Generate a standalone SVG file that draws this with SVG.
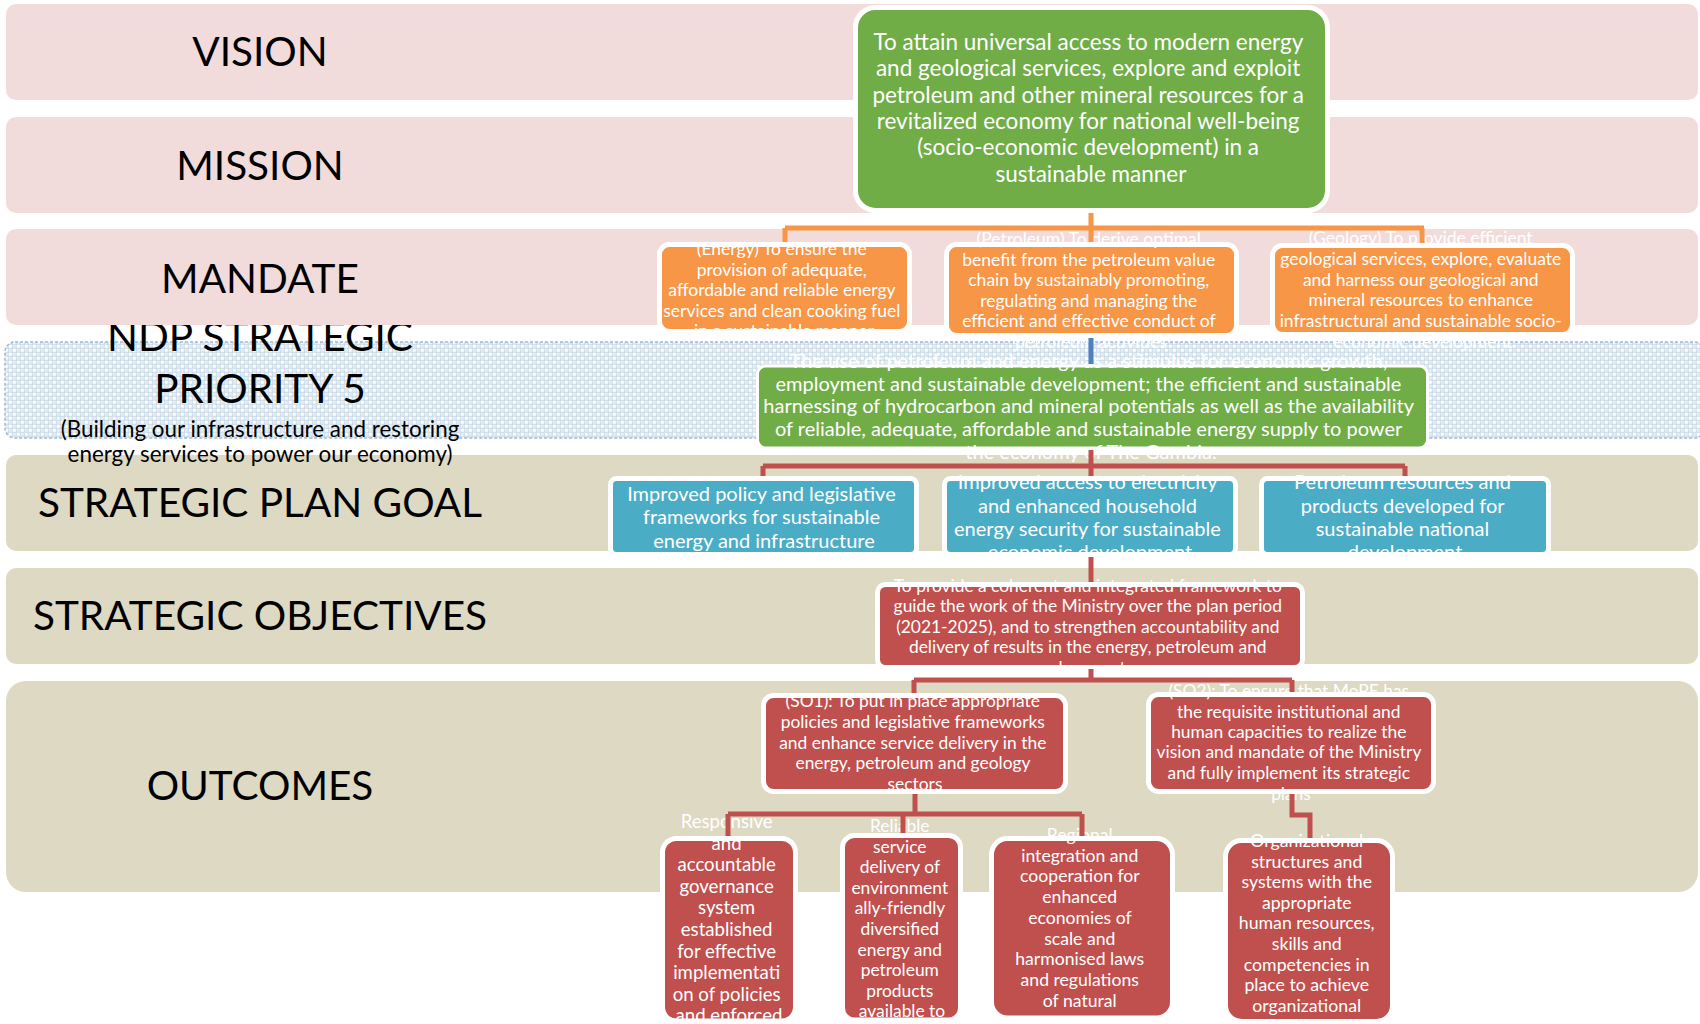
<svg xmlns="http://www.w3.org/2000/svg" width="1700" height="1024" viewBox="0 0 1700 1024">
  <defs>
    <pattern id="ndpTile" width="8" height="8" patternUnits="userSpaceOnUse">
      <rect width="8" height="8" fill="#CCDDE9"/>
      <rect x="0.8" y="0.8" width="3" height="3" rx="0.6" fill="#FFFFFF"/>
      <rect x="4.8" y="4.8" width="3" height="3" rx="0.6" fill="#FFFFFF"/>
      <rect x="4.8" y="0.8" width="3" height="3" rx="0.6" fill="#E6EEF4"/>
      <rect x="0.8" y="4.8" width="3" height="3" rx="0.6" fill="#E6EEF4"/>
    </pattern>
    <style>
      .band-pink { fill: #F2DCDB; }
      .band-tan { fill: #DDD9C3; }
      .lbl { font-family: Lato, "Liberation Sans", sans-serif; font-size: 40.5px; fill: #000000; text-anchor: middle; }
      .sub { font-family: Lato, "Liberation Sans", sans-serif; font-size: 22.4px; fill: #000000; text-anchor: middle; }
      .box { stroke: #FFFFFF; stroke-width: 5; }
      .green { fill: #70AD47; }
      .orange { fill: #F79646; }
      .blue { fill: #4BACC6; }
      .red { fill: #C0504D; }
      .t { font-family: Lato, "Liberation Sans", sans-serif; fill: #FFFFFF; text-anchor: middle; }
      .conn { fill: none; stroke-width: 5; stroke-linejoin: miter; }
    </style>
  </defs>

  <!-- background rows -->
  <g id="rows">
    <rect class="band-tan" x="6" y="455" width="1692" height="96" rx="10"/>
    <rect class="band-tan" x="6" y="568" width="1692" height="96" rx="10"/>
    <rect class="band-tan" x="6" y="681" width="1692" height="211" rx="20"/>
    <rect x="5" y="342" width="1700" height="96" rx="10" fill="url(#ndpTile)" stroke="#9DB9D8" stroke-width="1.5" stroke-dasharray="3 2"/>
    <text class="lbl" font-size="41"><tspan x="260" y="351">NDP STRATEGIC</tspan><tspan x="260" y="403">PRIORITY 5</tspan></text>
    <text class="sub"><tspan x="260" y="437">(Building our infrastructure and restoring</tspan><tspan x="260" y="462">energy services to power our economy)</tspan></text>
    <rect class="band-pink" x="6" y="4" width="1692" height="96" rx="10"/>
    <rect class="band-pink" x="6" y="117" width="1692" height="96" rx="10"/>
    <rect class="band-pink" x="6" y="229" width="1692" height="96" rx="10"/>
    <text class="lbl" x="260" y="66" font-size="41">VISION</text>
    <text class="lbl" x="260" y="180" font-size="41">MISSION</text>
    <text class="lbl" x="260" y="293" font-size="41">MANDATE</text>
    <text class="lbl" x="260" y="517">STRATEGIC PLAN GOAL</text>
    <text class="lbl" x="260" y="630">STRATEGIC OBJECTIVES</text>
    <text class="lbl" x="260" y="800" font-size="41">OUTCOMES</text>
  </g>

  <!-- vision / mission -->
  <g id="vision">
    <rect class="box green" x="855.5" y="7.5" width="472" height="203" rx="20"/>
    <text class="t" font-size="22.5">
      <tspan x="1091" y="50">To attain universal access to modern energy</tspan>
      <tspan x="1091" y="76.3">and geological services, explore and exploit</tspan>
      <tspan x="1091" y="102.6">petroleum and other mineral resources for a</tspan>
      <tspan x="1091" y="128.9">revitalized economy for national well-being</tspan>
      <tspan x="1091" y="155.2">(socio-economic development) in a</tspan>
      <tspan x="1091" y="181.5">sustainable manner</tspan>
    </text>
  </g>

  <!-- mandate -->
  <g id="mandate-energy">
    <rect class="box orange" x="659.5" y="244.5" width="250" height="87" rx="10"/>
    <text class="t" font-size="17.5">
      <tspan x="784" y="255">(Energy) To ensure the</tspan>
      <tspan x="784" y="275.5">provision of adequate,</tspan>
      <tspan x="784" y="296">affordable and reliable energy</tspan>
      <tspan x="784" y="316.5">services and clean cooking fuel</tspan>
      <tspan x="784" y="337">in a sustainable manner</tspan>
    </text>
  </g>
  <g id="mandate-petroleum">
    <rect class="box orange" x="946.5" y="244.5" width="290" height="91" rx="10"/>
    <text class="t" font-size="17.5">
      <tspan x="1091" y="245">(Petroleum) To derive optimal</tspan>
      <tspan x="1091" y="265.5">benefit from the petroleum value</tspan>
      <tspan x="1091" y="286">chain by sustainably promoting,</tspan>
      <tspan x="1091" y="306.5">regulating and managing the</tspan>
      <tspan x="1091" y="327">efficient and effective conduct of</tspan>
      <tspan x="1091" y="347.5">petroleum activities</tspan>
    </text>
  </g>
  <g id="mandate-geology">
    <rect class="box orange" x="1272.5" y="245.5" width="300" height="89" rx="10"/>
    <text class="t" font-size="17.5">
      <tspan x="1423" y="244">(Geology) To provide efficient</tspan>
      <tspan x="1423" y="265">geological services, explore, evaluate</tspan>
      <tspan x="1423" y="286">and harness our geological and</tspan>
      <tspan x="1423" y="306">mineral resources to enhance</tspan>
      <tspan x="1423" y="327">infrastructural and sustainable socio-</tspan>
      <tspan x="1423" y="348">economic development</tspan>
    </text>
  </g>

  <!-- NDP strategic priority -->
  <g id="ndp-priority">
    <rect x="757.5" y="366" width="670" height="82" rx="8" class="green" stroke="#FFFFFF" stroke-width="3"/>
    <text class="t" font-size="20">
      <tspan x="1091" y="367.5">The use of petroleum and energy as a stimulus for economic growth,</tspan>
      <tspan x="1091" y="390.5">employment and sustainable development; the efficient and sustainable</tspan>
      <tspan x="1091" y="413">harnessing of hydrocarbon and mineral potentials as well as the availability</tspan>
      <tspan x="1091" y="435.5">of reliable, adequate, affordable and sustainable energy supply to power</tspan>
      <tspan x="1091" y="458.5">the economy of The Gambia.</tspan>
    </text>
  </g>

  <!-- strategic plan goals -->
  <g id="goal-policy">
    <rect class="box blue" x="610.5" y="478.5" width="306" height="76" rx="6"/>
    <text class="t" font-size="20">
      <tspan x="764" y="501">Improved policy and legislative</tspan>
      <tspan x="764" y="524">frameworks for sustainable</tspan>
      <tspan x="764" y="547.5">energy and infrastructure</tspan>
    </text>
  </g>
  <g id="goal-access">
    <rect class="box blue" x="944.5" y="478.5" width="291" height="76" rx="6"/>
    <text class="t" font-size="20">
      <tspan x="1090" y="489">Improved access to electricity</tspan>
      <tspan x="1090" y="512.5">and enhanced household</tspan>
      <tspan x="1090" y="535.5">energy security for sustainable</tspan>
      <tspan x="1090" y="559">economic development</tspan>
    </text>
  </g>
  <g id="goal-petroleum">
    <rect class="box blue" x="1261.5" y="478.5" width="287" height="76" rx="6"/>
    <text class="t" font-size="20">
      <tspan x="1405" y="489">Petroleum resources and</tspan>
      <tspan x="1405" y="512.5">products developed for</tspan>
      <tspan x="1405" y="535.5">sustainable national</tspan>
      <tspan x="1405" y="559">development</tspan>
    </text>
  </g>

  <!-- strategic objectives -->
  <g id="objective-main">
    <rect class="box red" x="877.5" y="584.5" width="425" height="83" rx="8"/>
    <text class="t" font-size="17.4">
      <tspan x="1090" y="591.5">To provide a coherent and integrated framework to</tspan>
      <tspan x="1090" y="612">guide the work of the Ministry over the plan period</tspan>
      <tspan x="1090" y="632.5">(2021-2025), and to strengthen accountability and</tspan>
      <tspan x="1090" y="653">delivery of results in the energy, petroleum and</tspan>
      <tspan x="1090" y="673.5">geology sectors</tspan>
    </text>
  </g>
  <g id="objective-so1">
    <rect class="box red" x="763.5" y="695.5" width="302" height="96" rx="10"/>
    <text class="t" font-size="17.4">
      <tspan x="915" y="707">(SO1): To put in place appropriate</tspan>
      <tspan x="915" y="728">policies  and legislative frameworks</tspan>
      <tspan x="915" y="748.5">and enhance service delivery in the</tspan>
      <tspan x="915" y="769">energy, petroleum and geology</tspan>
      <tspan x="915" y="789.5">sectors</tspan>
    </text>
  </g>
  <g id="objective-so2">
    <rect class="box red" x="1148.5" y="694.5" width="285" height="97" rx="10"/>
    <text class="t" font-size="17.4">
      <tspan x="1291" y="697">(SO2): To ensure that MoPE has</tspan>
      <tspan x="1291" y="718">the requisite institutional and</tspan>
      <tspan x="1291" y="738">human capacities to realize the</tspan>
      <tspan x="1291" y="758">vision and mandate of the Ministry</tspan>
      <tspan x="1291" y="779">and fully implement its strategic</tspan>
      <tspan x="1291" y="800">plans</tspan>
    </text>
  </g>

  <!-- outcomes -->
  <g id="outcome-governance">
    <rect class="box red" x="662.5" y="838.5" width="133" height="182.5" rx="14"/>
    <text class="t" font-size="18.6">
      <tspan x="729" y="828">Responsive</tspan>
      <tspan x="729" y="849.6">and</tspan>
      <tspan x="729" y="871.2">accountable</tspan>
      <tspan x="729" y="892.8">governance</tspan>
      <tspan x="729" y="914.4">system</tspan>
      <tspan x="729" y="936">established</tspan>
      <tspan x="729" y="957.6">for effective</tspan>
      <tspan x="729" y="979.2">implementati</tspan>
      <tspan x="729" y="1000.8">on of policies</tspan>
      <tspan x="729" y="1022.4">and enforced</tspan>
    </text>
  </g>
  <g id="outcome-service">
    <rect class="box red" x="842.5" y="835.5" width="118" height="184.5" rx="12"/>
    <text class="t" font-size="17.4">
      <tspan x="902" y="832">Reliable</tspan>
      <tspan x="902" y="852.6">service</tspan>
      <tspan x="902" y="873.2">delivery of</tspan>
      <tspan x="902" y="893.8">environment</tspan>
      <tspan x="902" y="914.4">ally-friendly</tspan>
      <tspan x="902" y="935">diversified</tspan>
      <tspan x="902" y="955.6">energy and</tspan>
      <tspan x="902" y="976.2">petroleum</tspan>
      <tspan x="902" y="996.8">products</tspan>
      <tspan x="902" y="1017.4">available to</tspan>
    </text>
  </g>
  <g id="outcome-regional">
    <rect class="box red" x="991.5" y="838.5" width="181" height="179.5" rx="16"/>
    <text class="t" font-size="17.6">
      <tspan x="1082" y="841">Regional</tspan>
      <tspan x="1082" y="861.7">integration and</tspan>
      <tspan x="1082" y="882.4">cooperation for</tspan>
      <tspan x="1082" y="903.1">enhanced</tspan>
      <tspan x="1082" y="923.8">economies of</tspan>
      <tspan x="1082" y="944.5">scale and</tspan>
      <tspan x="1082" y="965.2">harmonised laws</tspan>
      <tspan x="1082" y="985.9">and regulations</tspan>
      <tspan x="1082" y="1006.6">of natural</tspan>
      <tspan x="1082" y="1027.3">resources</tspan>
    </text>
  </g>
  <g id="outcome-capacity">
    <rect class="box red" x="1225.5" y="840.5" width="167" height="181" rx="16"/>
    <text class="t" font-size="17.7">
      <tspan x="1309" y="847">Organizational</tspan>
      <tspan x="1309" y="867.6">structures and</tspan>
      <tspan x="1309" y="888.2">systems with the</tspan>
      <tspan x="1309" y="908.8">appropriate</tspan>
      <tspan x="1309" y="929.4">human resources,</tspan>
      <tspan x="1309" y="950">skills and</tspan>
      <tspan x="1309" y="970.6">competencies in</tspan>
      <tspan x="1309" y="991.2">place to achieve</tspan>
      <tspan x="1309" y="1011.8">organizational</tspan>
      <tspan x="1309" y="1032.4">objectives</tspan>
    </text>
  </g>

  <!-- connectors -->
  <g id="connectors">
    <path class="conn" stroke="#F79646" d="M1091,213 V242 M785,228 H1424 M785,228 V242 M1422,228 V243"/>
    <path class="conn" stroke="#4F81BD" stroke-width="4" d="M1091,338 V364"/>
    <path class="conn" stroke="#C0504D" d="M1091,450 V476 M763,466 H1405 M763,466 V476 M1405,466 V476"/>
    <path class="conn" stroke="#C0504D" d="M1091,557 V582"/>
    <path class="conn" stroke="#C0504D" d="M1091,669 V680 M914,680 H1292 M914,680 V693 M1292,680 V692"/>
    <path class="conn" stroke="#C0504D" d="M915,794 V814 M728,814 H1082 M728,814 V836 M903,814 V833 M1082,814 V836"/>
    <path class="conn" stroke="#C0504D" d="M1292,794 V815 H1310 V838"/>
  </g>
</svg>
